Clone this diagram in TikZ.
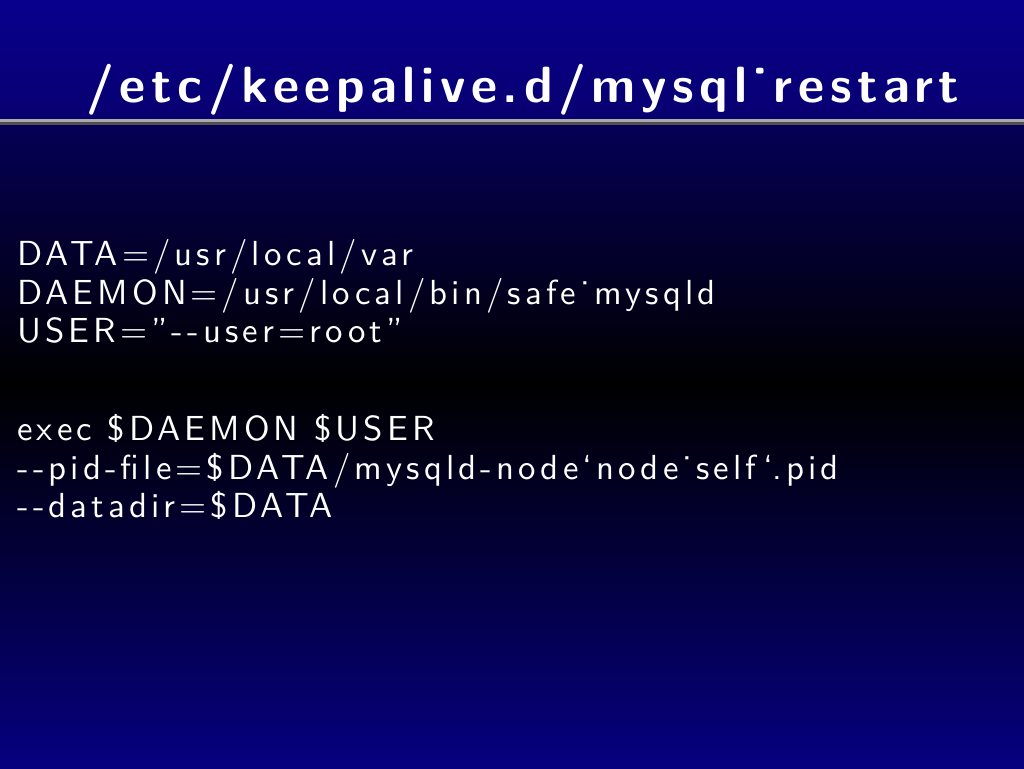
\documentclass[tikz,border=0pt]{standalone}
\usepackage{fontspec}
\newfontfamily\titlefont{lmsans10-bold}[Extension=.otf, LetterSpace=11]
\newfontfamily\bodyfont{lmsans10-regular}[Extension=.otf, LetterSpace=11.8]
\newcommand\twohyph{-\kern.118em-}

\definecolor{bandtop}{RGB}{8,0,140}
\definecolor{bandbottom}{RGB}{8,0,112}
\definecolor{lowtop}{RGB}{5,0,85}
\definecolor{lowbottom}{RGB}{6,0,128}
\definecolor{rulelight}{RGB}{170,170,170}
\definecolor{ruledark}{RGB}{80,80,80}

\tikzset{
  slidetitle/.style={anchor=base west, inner sep=0pt, text=white,
    font=\titlefont\fontsize{29}{32}\selectfont},
  codeline/.style={anchor=base west, inner sep=0pt, text=white,
    font=\bodyfont\fontsize{19.8}{22}\selectfont},
}

\begin{document}
\begin{tikzpicture}[x=0.02cm, y=0.02cm]

	\useasboundingbox (0,0) rectangle (1024,768);

	% background
	\shade[top color=bandtop, bottom color=bandbottom] (0,768) rectangle (1024,649);
	\shade[top color=lowtop, bottom color=black] (0,643) rectangle (1024,383);
	\shade[top color=black, bottom color=lowbottom] (0,384) rectangle (1024,0);
	\fill[rulelight] (0,649.3) rectangle (1024,646);
	\fill[ruledark] (0,646) rectangle (1024,642.7);

	\node[slidetitle] (title) at (86,665.5) {/etc/keepalive.d/mysql˙restart};

	\node[codeline] (datavar) at (17,502) {DATA=/usr/local/var};
	\node[codeline] (daemonvar) at (17,463.5) {DAEMON=/usr/local/bin/safe˙mysqld};
	\node[codeline] (uservar) at (17,425) {USER=”\twohyph user=root”};

	\node[codeline] (execline) at (17,327) {exec \$DAEMON \$USER};
	\node[codeline] (pidline) at (17,289) {\twohyph pid-file=\$DATA/mysqld-node‘node˙self‘.pid};
	\node[codeline] (dirline) at (17,251) {\twohyph datadir=\$DATA};

\end{tikzpicture}
\end{document}
